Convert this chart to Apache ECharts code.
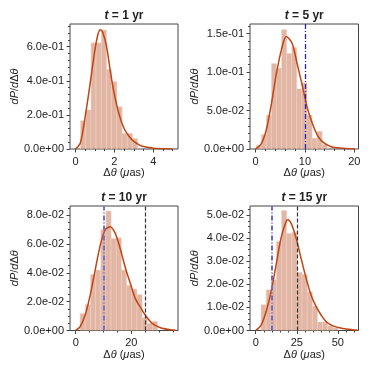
<!DOCTYPE html>
<html>
<head>
<meta charset="utf-8">
<script src="https://cdn.jsdelivr.net/npm/echarts@6/dist/echarts.min.js"></script>
<style>
  html, body { margin: 0; padding: 0; background: #fff; }
  #chart { width: 374px; height: 374px; }
</style>
</head>
<body>
<div id="chart"></div>
<script>
// ---- data ----
const years = ['1', '5', '10', '15']

// histogram bin edges and densities
const edges1 = [0.26, 0.53, 0.80, 1.06, 1.33, 1.60, 1.86, 2.13, 2.40, 2.66, 2.93, 3.20]
const heights1 = [0.166, 0.229, 0.622, 0.622, 0.698, 0.467, 0.395, 0.248, 0.092, 0.092, 0.062]

const edges2 = [0.1, 1.13, 2.16, 3.19, 4.22, 5.25, 6.28, 7.31, 8.34, 9.37, 10.4, 11.43, 12.46, 13.49, 14.52]
const heights2 = [0.005, 0.019, 0.044, 0.111, 0.105, 0.155, 0.124, 0.132, 0.078, 0.086, 0.044, 0.014, 0.023, 0.006]

const edges3 = [1.57, 3.43, 5.29, 7.15, 9.01, 10.87, 12.73, 14.59, 16.45, 18.31, 20.17, 22.03, 23.89, 25.75, 27.61, 29.47]
const heights3 = [0.0118, 0.018, 0.039, 0.042, 0.070, 0.083, 0.064, 0.0645, 0.042, 0.0315, 0.0288, 0.025, 0.0088, 0.005, 0.0065]

const edges4 = [3.2, 6.33, 9.46, 12.59, 15.72, 18.85, 21.98, 25.11, 28.24, 31.37, 34.5, 37.63, 40.76, 43.89, 47.02, 50.15]
const heights4 = [0.0112, 0.0176, 0.022, 0.0385, 0.0519, 0.042, 0.0424, 0.0252, 0.0242, 0.0168, 0.0105, 0.0037, 0.0037, 0.002, 0.0012]

// fitted density curves
const curveX1 = [0, 0.25, 0.5, 0.75, 1.0, 1.15, 1.27, 1.4, 1.6, 1.8, 2.0, 2.25, 2.5, 2.75, 3.0, 3.4, 4.0, 4.5, 5.0]
const curveY1 = [0, 0.035, 0.19, 0.38, 0.58, 0.67, 0.70, 0.685, 0.60, 0.45, 0.32, 0.20, 0.12, 0.075, 0.045, 0.018, 0.005, 0.0015, 0.0005]

const curveX2 = [0, 1.15, 2.16, 3.2, 4.2, 5.3, 6.2, 7.4, 8.4, 9.5, 10.4, 11.5, 12.5, 13.5, 15.3, 17.7, 20]
const curveY2 = [0, 0.007, 0.025, 0.059, 0.098, 0.131, 0.146, 0.137, 0.111, 0.081, 0.055, 0.033, 0.018, 0.0095, 0.003, 0.001, 0.0003]

const curveX3 = [0, 1.57, 3.4, 5.2, 7, 8.8, 10.6, 12.4, 14.2, 16, 17.8, 19.6, 21.4, 23.3, 25.1, 27.5, 30.5, 34, 36]
const curveY3 = [0, 0.0026, 0.0107, 0.0246, 0.042, 0.059, 0.070, 0.072, 0.0675, 0.057, 0.044, 0.033, 0.0223, 0.016, 0.0105, 0.005, 0.0019, 0.0005, 0.0002]

const curveX4 = [0, 3.25, 6.3, 9.35, 12.4, 15.4, 18.5, 19.5, 21.5, 24.6, 27.6, 30.7, 33.7, 36.8, 39.8, 42.9, 47, 53, 59, 62]
const curveY4 = [0, 0.0023, 0.0081, 0.0168, 0.0284, 0.040, 0.0472, 0.048, 0.0465, 0.040, 0.0313, 0.0226, 0.0154, 0.0103, 0.0067, 0.0038, 0.002, 0.0009, 0.0003, 0.0001]

// reference lines (blue dash-dot, black dashed)
const blueLines = [null, 10, 10, 10]
const blackLines = [null, null, 25, 25]

// tick labels
const xTicks1 = [0, 2, 4]
const xTicks2 = [0, 10, 20]
const xTicks3 = [0, 20]
const xTicks4 = [0, 25, 50]
const yTicks1 = [0, 0.2, 0.4, 0.6]
const yTicks2 = [0, 0.05, 0.1, 0.15]
const yTicks3 = [0, 0.02, 0.04, 0.06, 0.08]
const yTicks4 = [0, 0.01, 0.02, 0.03, 0.04, 0.05]

function range(a, b, s) {
  const out = []
  for (let v = a; v <= b + s * 1e-6; v += s) out.push(+v.toFixed(6))
  return out
}

function sci(v) {
  const [m, e] = v.toExponential(1).split('e')
  return m + 'e' + e[0] + e.slice(1).padStart(2, '0')
}

const panels = [
  { edges: edges1, heights: heights1, cx: curveX1, cy: curveY1, xlim: [-0.28, 5.27], ylim: [0, 0.733],
    xMajor: xTicks1, xMinor: range(0, 5, 0.5), yMajor: yTicks1, yMinor: range(0, 0.72, 0.04),
    grid: { left: 70, top: 24, width: 108, height: 125 }, blueStyle: null },
  { edges: edges2, heights: heights2, cx: curveX2, cy: curveY2, xlim: [-1.15, 20.85], ylim: [0, 0.1623],
    xMajor: xTicks2, xMinor: range(0, 20, 2), yMajor: yTicks2, yMinor: range(0, 0.16, 0.01),
    grid: { left: 250, top: 24, width: 108.5, height: 125 }, blueStyle: { color: '#2626b0', width: 1.3 } },
  { edges: edges3, heights: heights3, cx: curveX3, cy: curveY3, xlim: [-2.06, 36.8], ylim: [0, 0.0865],
    xMajor: xTicks3, xMinor: range(0, 35, 5), yMajor: yTicks3, yMinor: range(0, 0.085, 0.005),
    grid: { left: 70, top: 206, width: 108, height: 124.5 }, blueStyle: { color: '#7474cc', width: 2 } },
  { edges: edges4, heights: heights4, cx: curveX4, cy: curveY4, xlim: [-3.5, 62.6], ylim: [0, 0.0539],
    xMajor: xTicks4, xMinor: range(0, 60, 5), yMajor: yTicks4, yMinor: range(0, 0.0525, 0.0025),
    grid: { left: 250, top: 206, width: 108.5, height: 124.5 }, blueStyle: { color: '#6c6cc8', width: 2 } }
]

const font = 'Liberation Sans, Arial, sans-serif'
const ink = '#222'
const spine = '#444'
const rich = {
  i: { fontStyle: 'italic', fontSize: 11, fontFamily: font, color: ink },
  n: { fontSize: 11, fontFamily: font, color: ink }
}

const grids = [], xAxes = [], yAxes = [], series = [], titles = []

panels.forEach((p, k) => {
  grids.push(Object.assign({ show: true, borderColor: spine, borderWidth: 1, containLabel: false }, p.grid))

  titles.push({
    text: '{i|t} = ' + years[k] + ' yr',
    left: p.grid.left + p.grid.width / 2,
    top: p.grid.top - 14.5,
    textAlign: 'center',
    padding: 0,
    textStyle: {
      fontSize: 12, fontWeight: 'bold', fontFamily: font, color: ink,
      rich: { i: { fontStyle: 'italic', fontWeight: 'bold', fontSize: 12, fontFamily: font, color: ink } }
    }
  })

  // major axes with labels
  xAxes.push({
    type: 'value', gridIndex: k, min: p.xlim[0], max: p.xlim[1], position: 'bottom',
    axisLine: { show: false, onZero: false }, splitLine: { show: false },
    axisTick: { show: true, length: 3.5, lineStyle: { color: spine }, customValues: p.xMajor },
    axisLabel: { customValues: p.xMajor, margin: 7, fontSize: 11, fontFamily: font, color: ink },
    name: '{n|Δ}{i|θ} {n|(}{i|μ}{n|as)}', nameLocation: 'middle', nameGap: 18,
    nameTextStyle: { fontSize: 11, fontFamily: font, color: ink, rich: rich }
  })
  // minor ticks
  xAxes.push({
    type: 'value', gridIndex: k, min: p.xlim[0], max: p.xlim[1], position: 'bottom',
    axisLine: { show: false, onZero: false }, splitLine: { show: false }, axisLabel: { show: false },
    axisTick: { show: true, length: 2, lineStyle: { color: spine }, customValues: p.xMinor }
  })
  yAxes.push({
    type: 'value', gridIndex: k, min: p.ylim[0], max: p.ylim[1], position: 'left',
    axisLine: { show: false, onZero: false }, splitLine: { show: false },
    axisTick: { show: true, length: 3.5, lineStyle: { color: spine }, customValues: p.yMajor },
    axisLabel: { customValues: p.yMajor, margin: 6, fontSize: 11, fontFamily: font, color: ink, formatter: sci },
    name: '{i|dP}{n|/}{i|d}{n|Δ}{i|θ}', nameLocation: 'middle', nameGap: 42, nameRotate: 90,
    nameTextStyle: { fontSize: 11, fontFamily: font, color: ink, rich: rich }
  })
  yAxes.push({
    type: 'value', gridIndex: k, min: p.ylim[0], max: p.ylim[1], position: 'left',
    axisLine: { show: false, onZero: false }, splitLine: { show: false }, axisLabel: { show: false },
    axisTick: { show: true, length: 2, lineStyle: { color: spine }, customValues: p.yMinor }
  })

  series.push({
    type: 'custom', xAxisIndex: 2 * k, yAxisIndex: 2 * k, z: 2, silent: true, clip: true,
    data: p.heights.map((h, j) => [p.edges[j], p.edges[j + 1], h]),
    encode: { x: [0, 1], y: 2 },
    renderItem: (params, api) => {
      const a = api.coord([api.value(0), api.value(2)])
      const b = api.coord([api.value(1), 0])
      return {
        type: 'rect',
        shape: { x: a[0], y: a[1], width: b[0] - a[0], height: b[1] - a[1] },
        style: { fill: 'rgba(190,96,58,0.46)', stroke: 'rgba(244,214,200,0.9)', lineWidth: 0.6 }
      }
    }
  })

  const marks = []
  if (blueLines[k] !== null) {
    marks.push({ xAxis: blueLines[k], lineStyle: { color: p.blueStyle.color, width: p.blueStyle.width, type: [5, 2, 1, 2] } })
  }
  if (blackLines[k] !== null) {
    marks.push({ xAxis: blackLines[k], lineStyle: { color: '#333', width: 1.2, type: [4, 2] } })
  }
  if (marks.length) {
    series.push({
      type: 'line', xAxisIndex: 2 * k, yAxisIndex: 2 * k, z: 3, data: [],
      markLine: { symbol: 'none', silent: true, label: { show: false }, animation: false, data: marks }
    })
  }

  series.push({
    type: 'line', xAxisIndex: 2 * k, yAxisIndex: 2 * k, z: 4,
    data: p.cx.map((x, j) => [x, p.cy[j]]),
    smooth: 0.3, showSymbol: false, silent: true,
    lineStyle: { color: '#bf4513', width: 1.5 }
  })
})

const chart = echarts.init(document.getElementById('chart'), null, { renderer: 'canvas' })
chart.setOption({
  animation: false,
  backgroundColor: '#fff',
  title: titles,
  grid: grids,
  xAxis: xAxes,
  yAxis: yAxes,
  series: series
})
</script>
</body>
</html>
